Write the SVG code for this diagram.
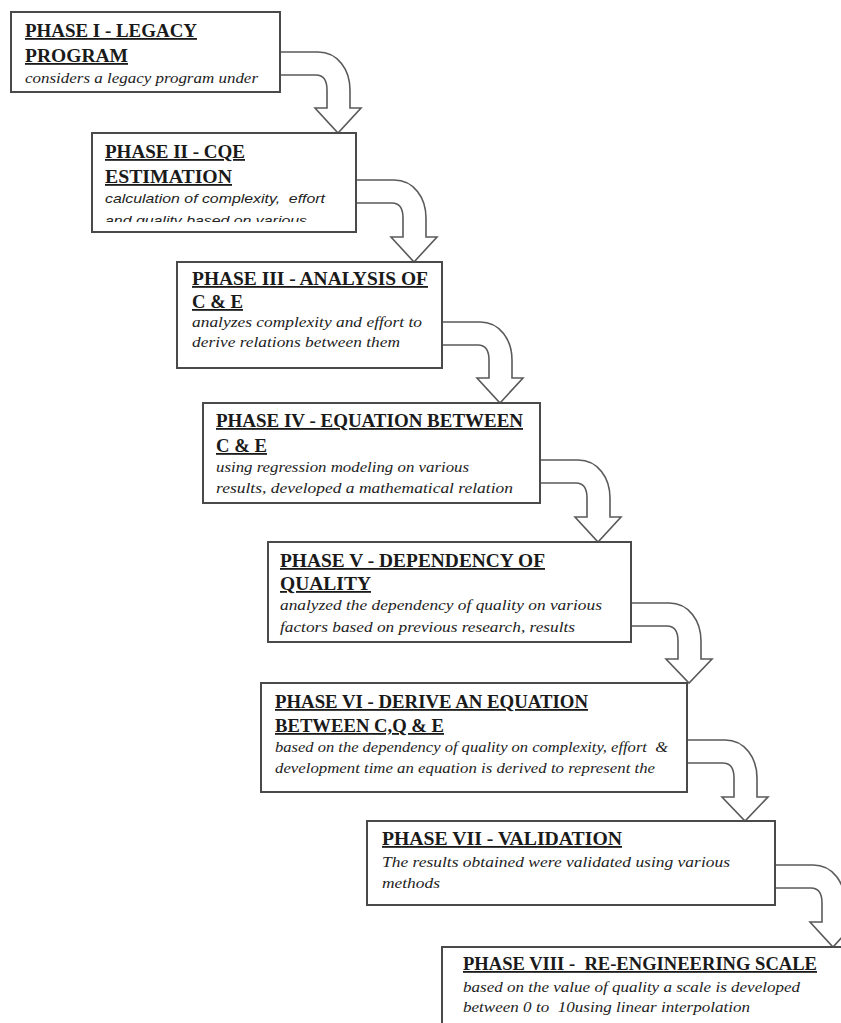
<svg xmlns="http://www.w3.org/2000/svg" width="841" height="1023" viewBox="0 0 841 1023">
<style>
.bg{fill:#ffffff}
.box{fill:#ffffff;stroke:#4a4a4a;stroke-width:2}
.arr{fill:#ffffff;stroke:#5a5a5a;stroke-width:1.6;stroke-linejoin:miter}
.t{font-family:"Liberation Serif","Times New Roman",serif;font-weight:bold;font-size:18px;fill:#1a1a1a;text-decoration:underline;white-space:pre}
.d{font-family:"Liberation Serif","Times New Roman",serif;font-style:italic;font-size:14.5px;fill:#222;white-space:pre}
.ds{font-family:"Liberation Sans",Arial,sans-serif;font-style:italic;font-size:13.5px;fill:#222;white-space:pre}
</style>
<defs>
<clipPath id="c2"><rect x="92" y="133" width="264" height="89"/></clipPath>
</defs>
<rect class="bg" x="0" y="0" width="841" height="1023"/>
<g id="connectors">
<path class="arr" d="M280,52 L318,52 C338,52 350,70 350,90 L350,108 L361,108 L338,133 L315,108 L327,108 L327,90 C327,80 324,75 316,75 L280,75 Z"/>
<path class="arr" d="M356,180 L394,180 C414,180 426,198 426,218 L426,237 L437,237 L414,262 L391,237 L403,237 L403,218 C403,208 400,203 392,203 L356,203 Z"/>
<path class="arr" d="M442,322 L480,322 C500,322 512,340 512,360 L512,378 L523,378 L500,403 L477,378 L489,378 L489,360 C489,350 486,345 478,345 L442,345 Z"/>
<path class="arr" d="M540,460 L578,460 C598,460 610,478 610,498 L610,517 L621,517 L598,542 L575,517 L587,517 L587,498 C587,488 584,483 576,483 L540,483 Z"/>
<path class="arr" d="M631,603 L669,603 C689,603 701,621 701,641 L701,659 L712,659 L689,683 L666,659 L678,659 L678,641 C678,631 675,626 667,626 L631,626 Z"/>
<path class="arr" d="M687,740 L725,740 C745,740 757,758 757,778 L757,797 L768,797 L745,821 L722,797 L734,797 L734,778 C734,768 731,763 723,763 L687,763 Z"/>
<path class="arr" d="M775,865 L813,865 C833,865 845,883 845,903 L845,922 L856,922 L833,947 L810,922 L822,922 L822,903 C822,893 819,888 811,888 L775,888 Z"/>
</g>
<g id="phase1">
<rect class="box" x="11" y="12" width="269" height="80"/>
<text class="t" x="25" y="37" textLength="172" lengthAdjust="spacingAndGlyphs">PHASE I - LEGACY</text>
<text class="t" x="25" y="62" textLength="103" lengthAdjust="spacingAndGlyphs">PROGRAM</text>
<text class="d" x="25" y="83" textLength="233" lengthAdjust="spacingAndGlyphs">considers a legacy program under</text>
</g>
<g id="phase2">
<rect class="box" x="92" y="133" width="264" height="99"/>
<text class="t" x="105" y="158" textLength="140" lengthAdjust="spacingAndGlyphs">PHASE II - CQE</text>
<text class="t" x="105" y="183" textLength="127" lengthAdjust="spacingAndGlyphs">ESTIMATION</text>
<text class="ds" x="105" y="203" textLength="220" lengthAdjust="spacingAndGlyphs">calculation of complexity,  effort</text>
<text class="ds" x="105" y="225" textLength="202" lengthAdjust="spacingAndGlyphs" clip-path="url(#c2)">and quality based on various</text>
</g>
<g id="phase3">
<rect class="box" x="177" y="262" width="265" height="106"/>
<text class="t" x="192" y="285" textLength="236" lengthAdjust="spacingAndGlyphs">PHASE III - ANALYSIS OF</text>
<text class="t" x="192" y="308" textLength="51" lengthAdjust="spacingAndGlyphs">C &amp; E</text>
<text class="d" x="192" y="327" textLength="230" lengthAdjust="spacingAndGlyphs">analyzes complexity and effort to</text>
<text class="d" x="192" y="347" textLength="208" lengthAdjust="spacingAndGlyphs">derive relations between them</text>
</g>
<g id="phase4">
<rect class="box" x="203" y="403" width="337" height="100"/>
<text class="t" x="216" y="427" textLength="307" lengthAdjust="spacingAndGlyphs">PHASE IV - EQUATION BETWEEN</text>
<text class="t" x="216" y="452" textLength="51" lengthAdjust="spacingAndGlyphs">C &amp; E</text>
<text class="d" x="216" y="472" textLength="253" lengthAdjust="spacingAndGlyphs">using regression modeling on various</text>
<text class="d" x="216" y="493" textLength="297" lengthAdjust="spacingAndGlyphs">results, developed a mathematical relation</text>
</g>
<g id="phase5">
<rect class="box" x="268" y="542" width="363" height="100"/>
<text class="t" x="280" y="567" textLength="265" lengthAdjust="spacingAndGlyphs">PHASE V - DEPENDENCY OF</text>
<text class="t" x="280" y="590" textLength="91" lengthAdjust="spacingAndGlyphs">QUALITY</text>
<text class="d" x="280" y="610" textLength="322" lengthAdjust="spacingAndGlyphs">analyzed the dependency of quality on various</text>
<text class="d" x="280" y="632" textLength="295" lengthAdjust="spacingAndGlyphs">factors based on previous research, results</text>
</g>
<g id="phase6">
<rect class="box" x="261" y="683" width="426" height="109"/>
<text class="t" x="275" y="708" textLength="313" lengthAdjust="spacingAndGlyphs">PHASE VI - DERIVE AN EQUATION</text>
<text class="t" x="275" y="732" textLength="169" lengthAdjust="spacingAndGlyphs">BETWEEN C,Q &amp; E</text>
<text class="d" x="275" y="752" textLength="393" lengthAdjust="spacingAndGlyphs">based on the dependency of quality on complexity, effort  &amp;</text>
<text class="d" x="275" y="773" textLength="380" lengthAdjust="spacingAndGlyphs">development time an equation is derived to represent the</text>
</g>
<g id="phase7">
<rect class="box" x="367" y="821" width="408" height="84"/>
<text class="t" x="382" y="845" textLength="240" lengthAdjust="spacingAndGlyphs">PHASE VII - VALIDATION</text>
<text class="d" x="382" y="867" textLength="348" lengthAdjust="spacingAndGlyphs">The results obtained were validated using various</text>
<text class="d" x="382" y="888" textLength="58" lengthAdjust="spacingAndGlyphs">methods</text>
</g>
<g id="phase8">
<rect class="box" x="442" y="947" width="420" height="100"/>
<text class="t" x="463" y="970" textLength="354" lengthAdjust="spacingAndGlyphs">PHASE VIII -  RE-ENGINEERING SCALE</text>
<text class="d" x="463" y="992" textLength="337" lengthAdjust="spacingAndGlyphs">based on the value of quality a scale is developed</text>
<text class="d" x="463" y="1012" textLength="287" lengthAdjust="spacingAndGlyphs">between 0 to  10using linear interpolation</text>
</g>
</svg>
